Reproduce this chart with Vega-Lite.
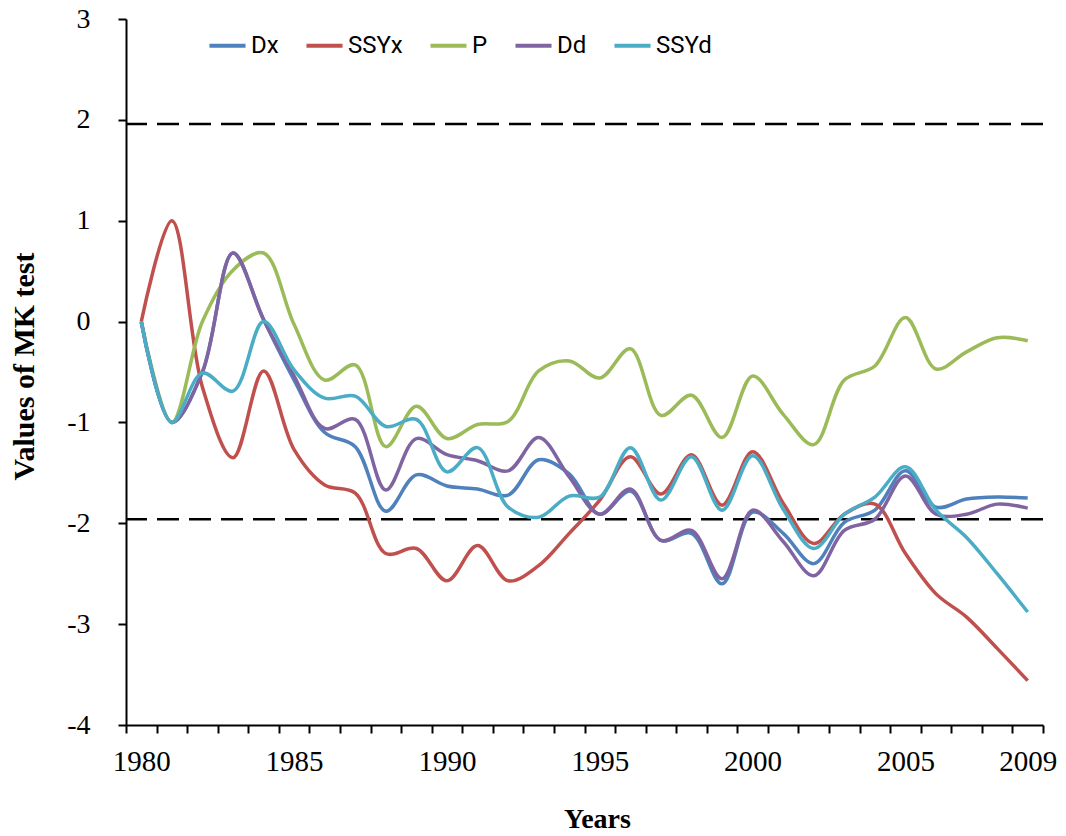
{
  "$schema": "https://vega.github.io/schema/vega-lite/v6.json",
  "width": 917,
  "height": 706,
  "autosize": "none",
  "padding": {"left": 126, "top": 19, "right": 23, "bottom": 111},
  "background": "white",
  "config": {
    "view": {"stroke": null},
    "axis": {"grid": false, "domainColor": "black", "domainWidth": 2, "tickColor": "black", "tickWidth": 2, "tickSize": 8, "labelColor": "black", "titleColor": "black", "labelFont": "Liberation Serif", "titleFont": "Liberation Serif"}
  },
  "datasets": {
    "mk": [
      {"year": 1980, "Dx": 0, "SSYx": 0, "P": 0, "Dd": 0, "SSYd": 0},
      {"year": 1981, "Dx": -1.0, "SSYx": 1.0, "P": -1.0, "Dd": -1.0, "SSYd": -1.0},
      {"year": 1982, "Dx": -0.5, "SSYx": -0.65, "P": 0.0, "Dd": -0.5, "SSYd": -0.51},
      {"year": 1983, "Dx": 0.68, "SSYx": -1.35, "P": 0.51, "Dd": 0.68, "SSYd": -0.69},
      {"year": 1984, "Dx": 0.02, "SSYx": -0.49, "P": 0.68, "Dd": 0.02, "SSYd": 0.0},
      {"year": 1985, "Dx": -0.58, "SSYx": -1.27, "P": -0.03, "Dd": -0.54, "SSYd": -0.48},
      {"year": 1986, "Dx": -1.1, "SSYx": -1.62, "P": -0.58, "Dd": -1.06, "SSYd": -0.76},
      {"year": 1987, "Dx": -1.24, "SSYx": -1.7, "P": -0.43, "Dd": -0.97, "SSYd": -0.74},
      {"year": 1988, "Dx": -1.88, "SSYx": -2.3, "P": -1.24, "Dd": -1.67, "SSYd": -1.04},
      {"year": 1989, "Dx": -1.52, "SSYx": -2.25, "P": -0.84, "Dd": -1.16, "SSYd": -0.97},
      {"year": 1990, "Dx": -1.63, "SSYx": -2.57, "P": -1.16, "Dd": -1.32, "SSYd": -1.49},
      {"year": 1991, "Dx": -1.66, "SSYx": -2.22, "P": -1.02, "Dd": -1.38, "SSYd": -1.25},
      {"year": 1992, "Dx": -1.72, "SSYx": -2.57, "P": -0.99, "Dd": -1.48, "SSYd": -1.84},
      {"year": 1993, "Dx": -1.37, "SSYx": -2.42, "P": -0.49, "Dd": -1.15, "SSYd": -1.94},
      {"year": 1994, "Dx": -1.51, "SSYx": -2.1, "P": -0.39, "Dd": -1.54, "SSYd": -1.73},
      {"year": 1995, "Dx": -1.91, "SSYx": -1.77, "P": -0.56, "Dd": -1.91, "SSYd": -1.74},
      {"year": 1996, "Dx": -1.68, "SSYx": -1.34, "P": -0.27, "Dd": -1.66, "SSYd": -1.25},
      {"year": 1997, "Dx": -2.17, "SSYx": -1.71, "P": -0.93, "Dd": -2.17, "SSYd": -1.77},
      {"year": 1998, "Dx": -2.1, "SSYx": -1.32, "P": -0.73, "Dd": -2.07, "SSYd": -1.34},
      {"year": 1999, "Dx": -2.6, "SSYx": -1.82, "P": -1.15, "Dd": -2.55, "SSYd": -1.87},
      {"year": 2000, "Dx": -1.89, "SSYx": -1.29, "P": -0.54, "Dd": -1.87, "SSYd": -1.33},
      {"year": 2001, "Dx": -2.1, "SSYx": -1.8, "P": -0.92, "Dd": -2.18, "SSYd": -1.86},
      {"year": 2002, "Dx": -2.4, "SSYx": -2.2, "P": -1.22, "Dd": -2.52, "SSYd": -2.25},
      {"year": 2003, "Dx": -1.99, "SSYx": -1.91, "P": -0.58, "Dd": -2.07, "SSYd": -1.91},
      {"year": 2004, "Dx": -1.87, "SSYx": -1.81, "P": -0.44, "Dd": -1.96, "SSYd": -1.74},
      {"year": 2005, "Dx": -1.48, "SSYx": -2.3, "P": 0.04, "Dd": -1.53, "SSYd": -1.44},
      {"year": 2006, "Dx": -1.84, "SSYx": -2.7, "P": -0.47, "Dd": -1.91, "SSYd": -1.87},
      {"year": 2007, "Dx": -1.76, "SSYx": -2.93, "P": -0.3, "Dd": -1.91, "SSYd": -2.14},
      {"year": 2008, "Dx": -1.74, "SSYx": -3.24, "P": -0.16, "Dd": -1.81, "SSYd": -2.5},
      {"year": 2009, "Dx": -1.75, "SSYx": -3.56, "P": -0.19, "Dd": -1.85, "SSYd": -2.88}
    ],
    "crit": [{"z": 1.96}, {"z": -1.96}]
  },
  "layer": [
    {
      "data": {"name": "crit"},
      "mark": {"type": "rule", "color": "black", "strokeWidth": 2.5, "strokeDash": [22, 10]},
      "encoding": {
        "y": {"field": "z", "type": "quantitative", "scale": {"domain": [-4, 3], "nice": false, "zero": false}}
      }
    },
    {
      "data": {"name": "mk"},
      "transform": [{"fold": ["Dx", "SSYx", "P", "Dd", "SSYd"], "as": ["series", "value"]}],
      "mark": {"type": "line", "interpolate": "catmull-rom", "strokeWidth": 3.5},
      "encoding": {
        "x": {
          "field": "year", "type": "quantitative",
          "scale": {"domain": [1979.5, 2009.5], "nice": false, "zero": false},
          "axis": {
            "title": "Years", "titleFontSize": 28, "titleFontWeight": "bold",
            "titleX": 471, "titleY": 102, "titleAlign": "center", "titleBaseline": "alphabetic",
            "values": [1979.5, 1980.5, 1981.5, 1982.5, 1983.5, 1984.5, 1985.5, 1986.5, 1987.5, 1988.5, 1989.5, 1990.5, 1991.5, 1992.5, 1993.5, 1994.5, 1995.5, 1996.5, 1997.5, 1998.5, 1999.5, 2000.5, 2001.5, 2002.5, 2003.5, 2004.5, 2005.5, 2006.5, 2007.5, 2008.5, 2009.5],
            "labelExpr": "indexof([1980.5,1985.5,1990.5,1995.5,2000.5,2005.5,2009.5], datum.value) >= 0 ? toString(datum.value - 0.5) : ''",
            "labelOffset": -15.28, "labelOverlap": false, "labelFlush": false, "labelBound": false,
            "labelFontSize": 29, "labelPadding": 14
          }
        },
        "y": {
          "field": "value", "type": "quantitative",
          "scale": {"domain": [-4, 3], "nice": false, "zero": false},
          "axis": {
            "title": "Values of MK test", "titleFontSize": 30, "titleFontWeight": "bold",
            "titleX": -93, "titleY": 347, "titleAngle": -90, "titleAlign": "center", "titleBaseline": "alphabetic",
            "values": [-4, -3, -2, -1, 0, 1, 2, 3],
            "labelExpr": "toString(datum.value)",
            "labelFontSize": 28, "labelPadding": 28
          }
        },
        "color": {
          "field": "series", "type": "nominal",
          "scale": {"domain": ["Dx", "SSYx", "P", "Dd", "SSYd"], "range": ["#4F81BD", "#C0504D", "#9BBB59", "#8064A2", "#4BACC6"]},
          "legend": {
            "title": null, "orient": "none", "legendX": 81, "legendY": 6, "direction": "horizontal",
            "symbolType": "stroke", "symbolSize": 1300, "symbolStrokeWidth": 4,
            "labelFont": "Roboto", "labelFontSize": 24, "labelColor": "black",
            "labelOffset": 3, "columnPadding": 19
          }
        }
      }
    }
  ]
}
